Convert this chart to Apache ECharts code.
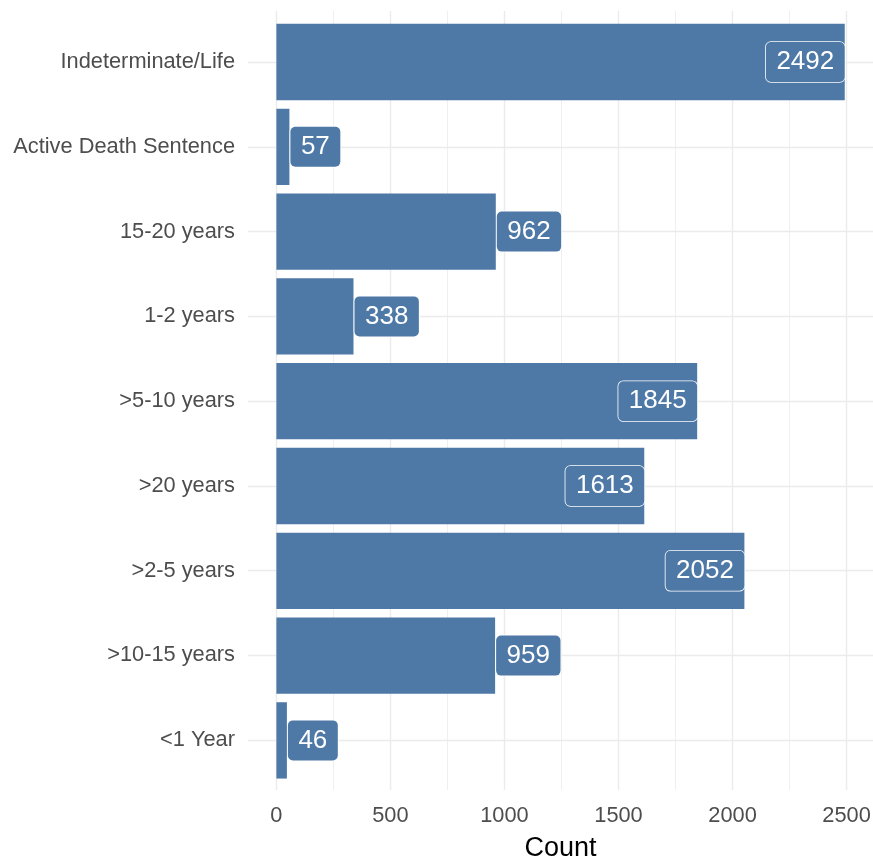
<!DOCTYPE html>
<html>
<head>
<meta charset="utf-8">
<script src="https://cdn.jsdelivr.net/npm/echarts@6/dist/echarts.min.js"></script>
<style>
html,body{margin:0;padding:0;background:#fff;}
#chart{width:873px;height:858px;}
</style>
</head>
<body>
<div id="chart"></div>
<script>
const categories = ['Indeterminate/Life', 'Active Death Sentence', '15-20 years', '1-2 years', '>5-10 years', '>20 years', '>2-5 years', '>10-15 years', '<1 Year'];
const counts = [2492, 57, 962, 338, 1845, 1613, 2052, 959, 46];
const xTickStep = 500;
const axisTitle = 'Count';

const FONT = "'Liberation Sans', Arial, sans-serif";
const BAR = '#4E79A7';
const GRID = '#ebebeb';
const XMAX = 3000;

const chart = echarts.init(document.getElementById('chart'), null, {renderer: 'canvas'});

const labelBase = {
  show: true,
  color: '#ffffff',
  fontFamily: FONT,
  fontSize: 26,
  lineHeight: 26,
  backgroundColor: BAR,
  borderColor: '#ffffff',
  borderWidth: 0.8,
  borderRadius: 5,
  padding: [7, 10.5, 7, 10.5]
};

const barData = counts.map(v => ({
  value: v,
  label: v > 1200 ? {position: 'insideRight', distance: 0} : {position: 'right', distance: 1}
}));

chart.setOption({
  animation: false,
  backgroundColor: '#ffffff',
  grid: [
    {left: 276.4, width: 684.2, top: 11, height: 779, outerBoundsMode: 'none', containLabel: false},
    {left: 276.4, width: 684.2, top: 19.6, height: 763.2, outerBoundsMode: 'none', containLabel: false},
    {left: 248, width: 625, top: 62, height: 678, outerBoundsMode: 'none', containLabel: false}
  ],
  xAxis: [
    {
      gridIndex: 0, type: 'value', min: 0, max: XMAX, interval: xTickStep,
      axisLine: {show: false}, axisTick: {show: false},
      axisLabel: {show: true, color: '#4d4d4d', fontFamily: FONT, fontSize: 21.8, margin: 15,
        formatter: v => (v <= 2500 ? String(v) : '')},
      splitLine: {show: true, lineStyle: {color: GRID, width: 1.4}},
      minorTick: {show: false, splitNumber: 2},
      minorSplitLine: {show: true, lineStyle: {color: GRID, width: 0.8}}
    },
    {
      gridIndex: 1, type: 'value', min: 0, max: XMAX, show: false
    },
    {
      gridIndex: 2, type: 'value', min: 0, max: 1,
      axisLine: {show: false}, axisTick: {show: false}, axisLabel: {show: false},
      splitLine: {show: false},
      name: axisTitle, nameLocation: 'middle', nameGap: 95,
      nameTextStyle: {color: '#000000', fontFamily: FONT, fontSize: 27}
    }
  ],
  yAxis: [
    {gridIndex: 0, type: 'value', show: false},
    {gridIndex: 1, type: 'category', data: categories, inverse: true, boundaryGap: true, show: false},
    {
      gridIndex: 2, type: 'category', data: categories, inverse: true, boundaryGap: false,
      axisLine: {show: false}, axisTick: {show: false},
      axisLabel: {color: '#4d4d4d', fontFamily: FONT, fontSize: 21.8, margin: 13, interval: 0},
      splitLine: {show: true, interval: 0, lineStyle: {color: GRID, width: 1.4}}
    }
  ],
  series: [
    {
      type: 'bar',
      xAxisIndex: 1, yAxisIndex: 1,
      data: barData,
      barCategoryGap: '10%',
      itemStyle: {color: BAR},
      label: labelBase,
      z: 3
    }
  ]
});
</script>
</body>
</html>
